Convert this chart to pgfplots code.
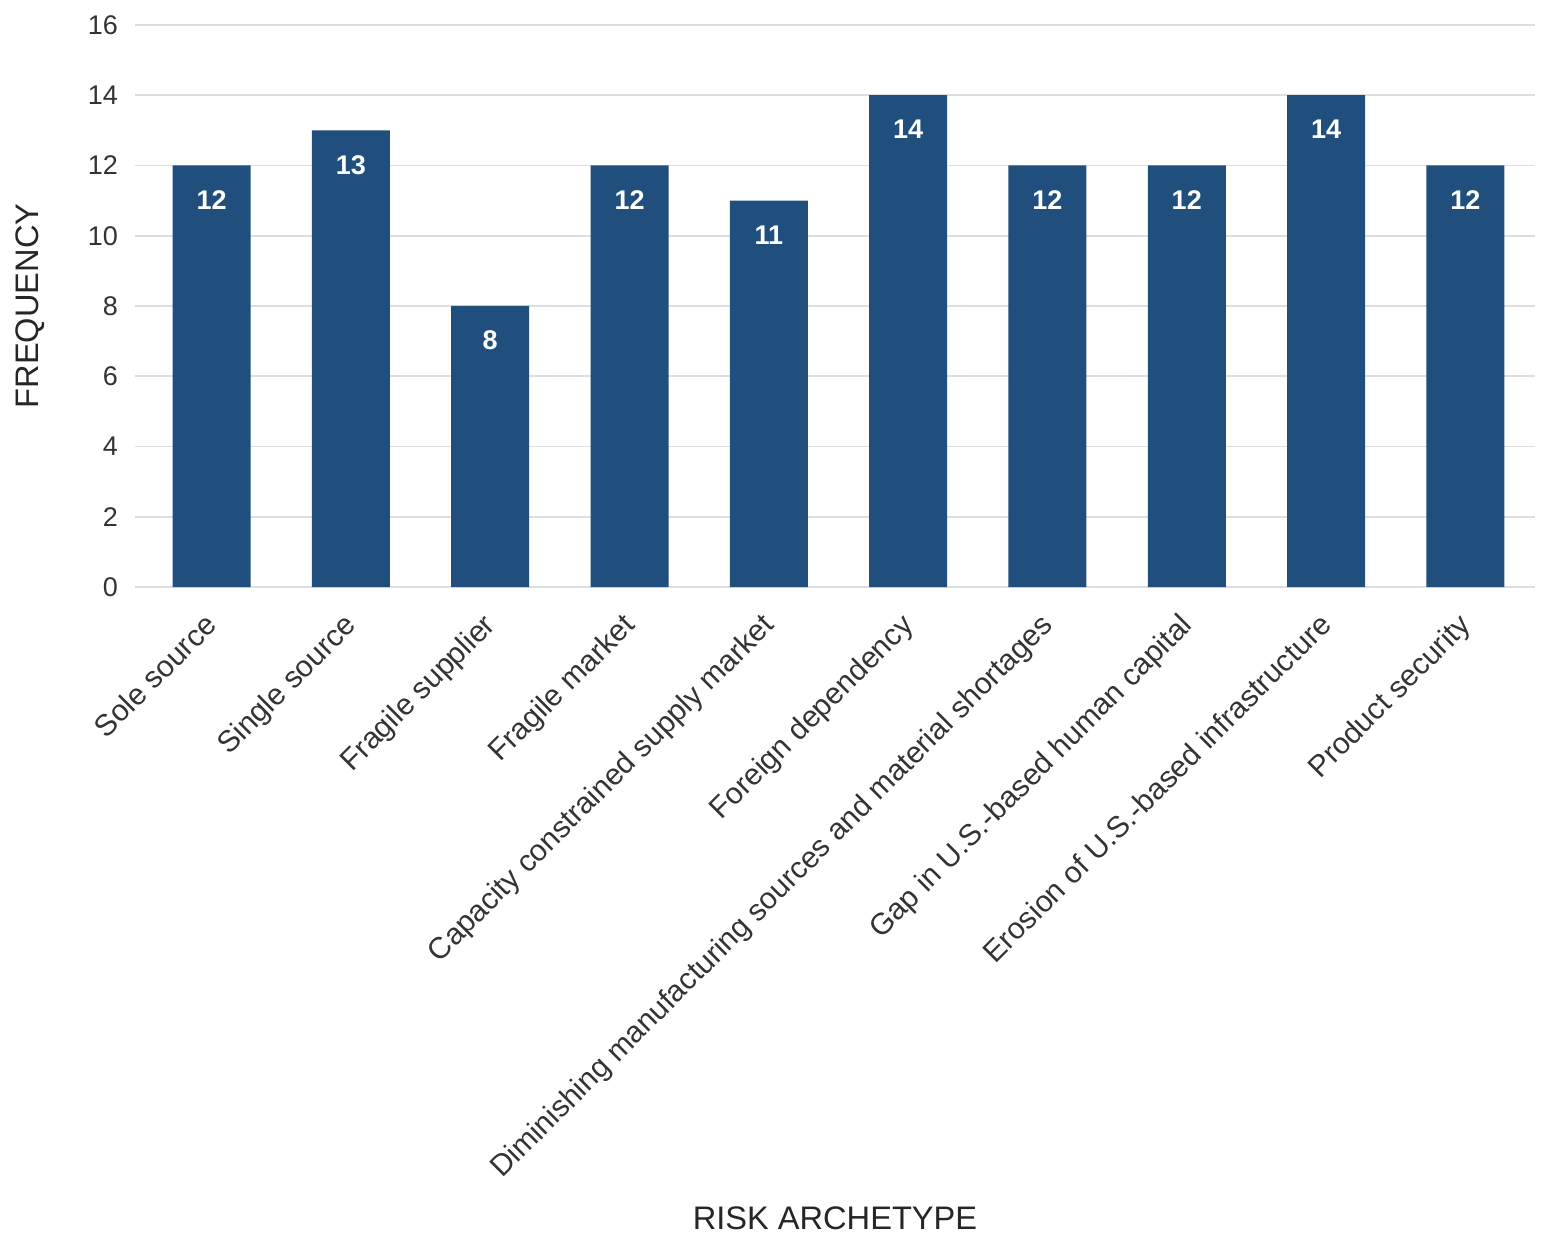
\documentclass[border=0pt]{standalone}
\usepackage{pgfplots}
\pgfplotsset{compat=1.18}
\usepackage{fontspec}
\setmainfont{Liberation Sans}
\definecolor{barblue}{RGB}{33,79,125}
\definecolor{gridgray}{RGB}{222,222,222}
\begin{document}
\begin{tikzpicture}
\begin{axis}[
  width=700pt, height=281pt,
  scale only axis,
  xmin=-0.55, xmax=9.5,
  ymin=0, ymax=16,
  ytick={0,2,...,16},
  xtick={0,...,9},
  xticklabels={Sole source,Single source,Fragile supplier,Fragile market,Capacity constrained supply market,Foreign dependency,Diminishing manufacturing sources and material shortages,Gap in U.S.-based human capital,Erosion of U.S.-based infrastructure,Product security},
  xticklabel style={rotate=45, anchor=north east, font=\fontsize{15}{17}\selectfont, text=black!80, inner sep=1pt, xshift=-10.5pt, yshift=-4.5pt},
  yticklabel style={font=\fontsize{13.5}{15}\selectfont, text=black!80, xshift=-5pt},
  /pgf/number format/assume math mode=true,
  axis line style={draw=none},
  major tick length=0pt,
  ymajorgrids,
  grid style={gridgray, line width=0.8pt},
  ylabel={FREQUENCY},
  xlabel={RISK ARCHETYPE},
  ylabel style={font=\fontsize{16.3}{18}\selectfont, text=black!85, at={(axis description cs:0,0.5)}, anchor=center, yshift=52.5pt},
  xlabel style={font=\fontsize{16.3}{18}\selectfont, text=black!85, at={(axis description cs:0.5,0)}, anchor=center, yshift=-315.5pt},
  ybar,
  bar width=39pt,
  clip=false,
  nodes near coords,
  every node near coord/.append style={anchor=north, yshift=-9pt, text=white, font=\bfseries\fontsize{13.5}{15}\selectfont},
]
\addplot[fill=barblue, draw=none] coordinates {(0,12) (1,13) (2,8) (3,12) (4,11) (5,14) (6,12) (7,12) (8,14) (9,12)};
\end{axis}
\pgfresetboundingbox
\path ([shift={(-67.5pt,-323.5pt)}]current axis.south west) rectangle ([shift={(5.5pt,12.5pt)}]current axis.north east);
\end{tikzpicture}
\end{document}
